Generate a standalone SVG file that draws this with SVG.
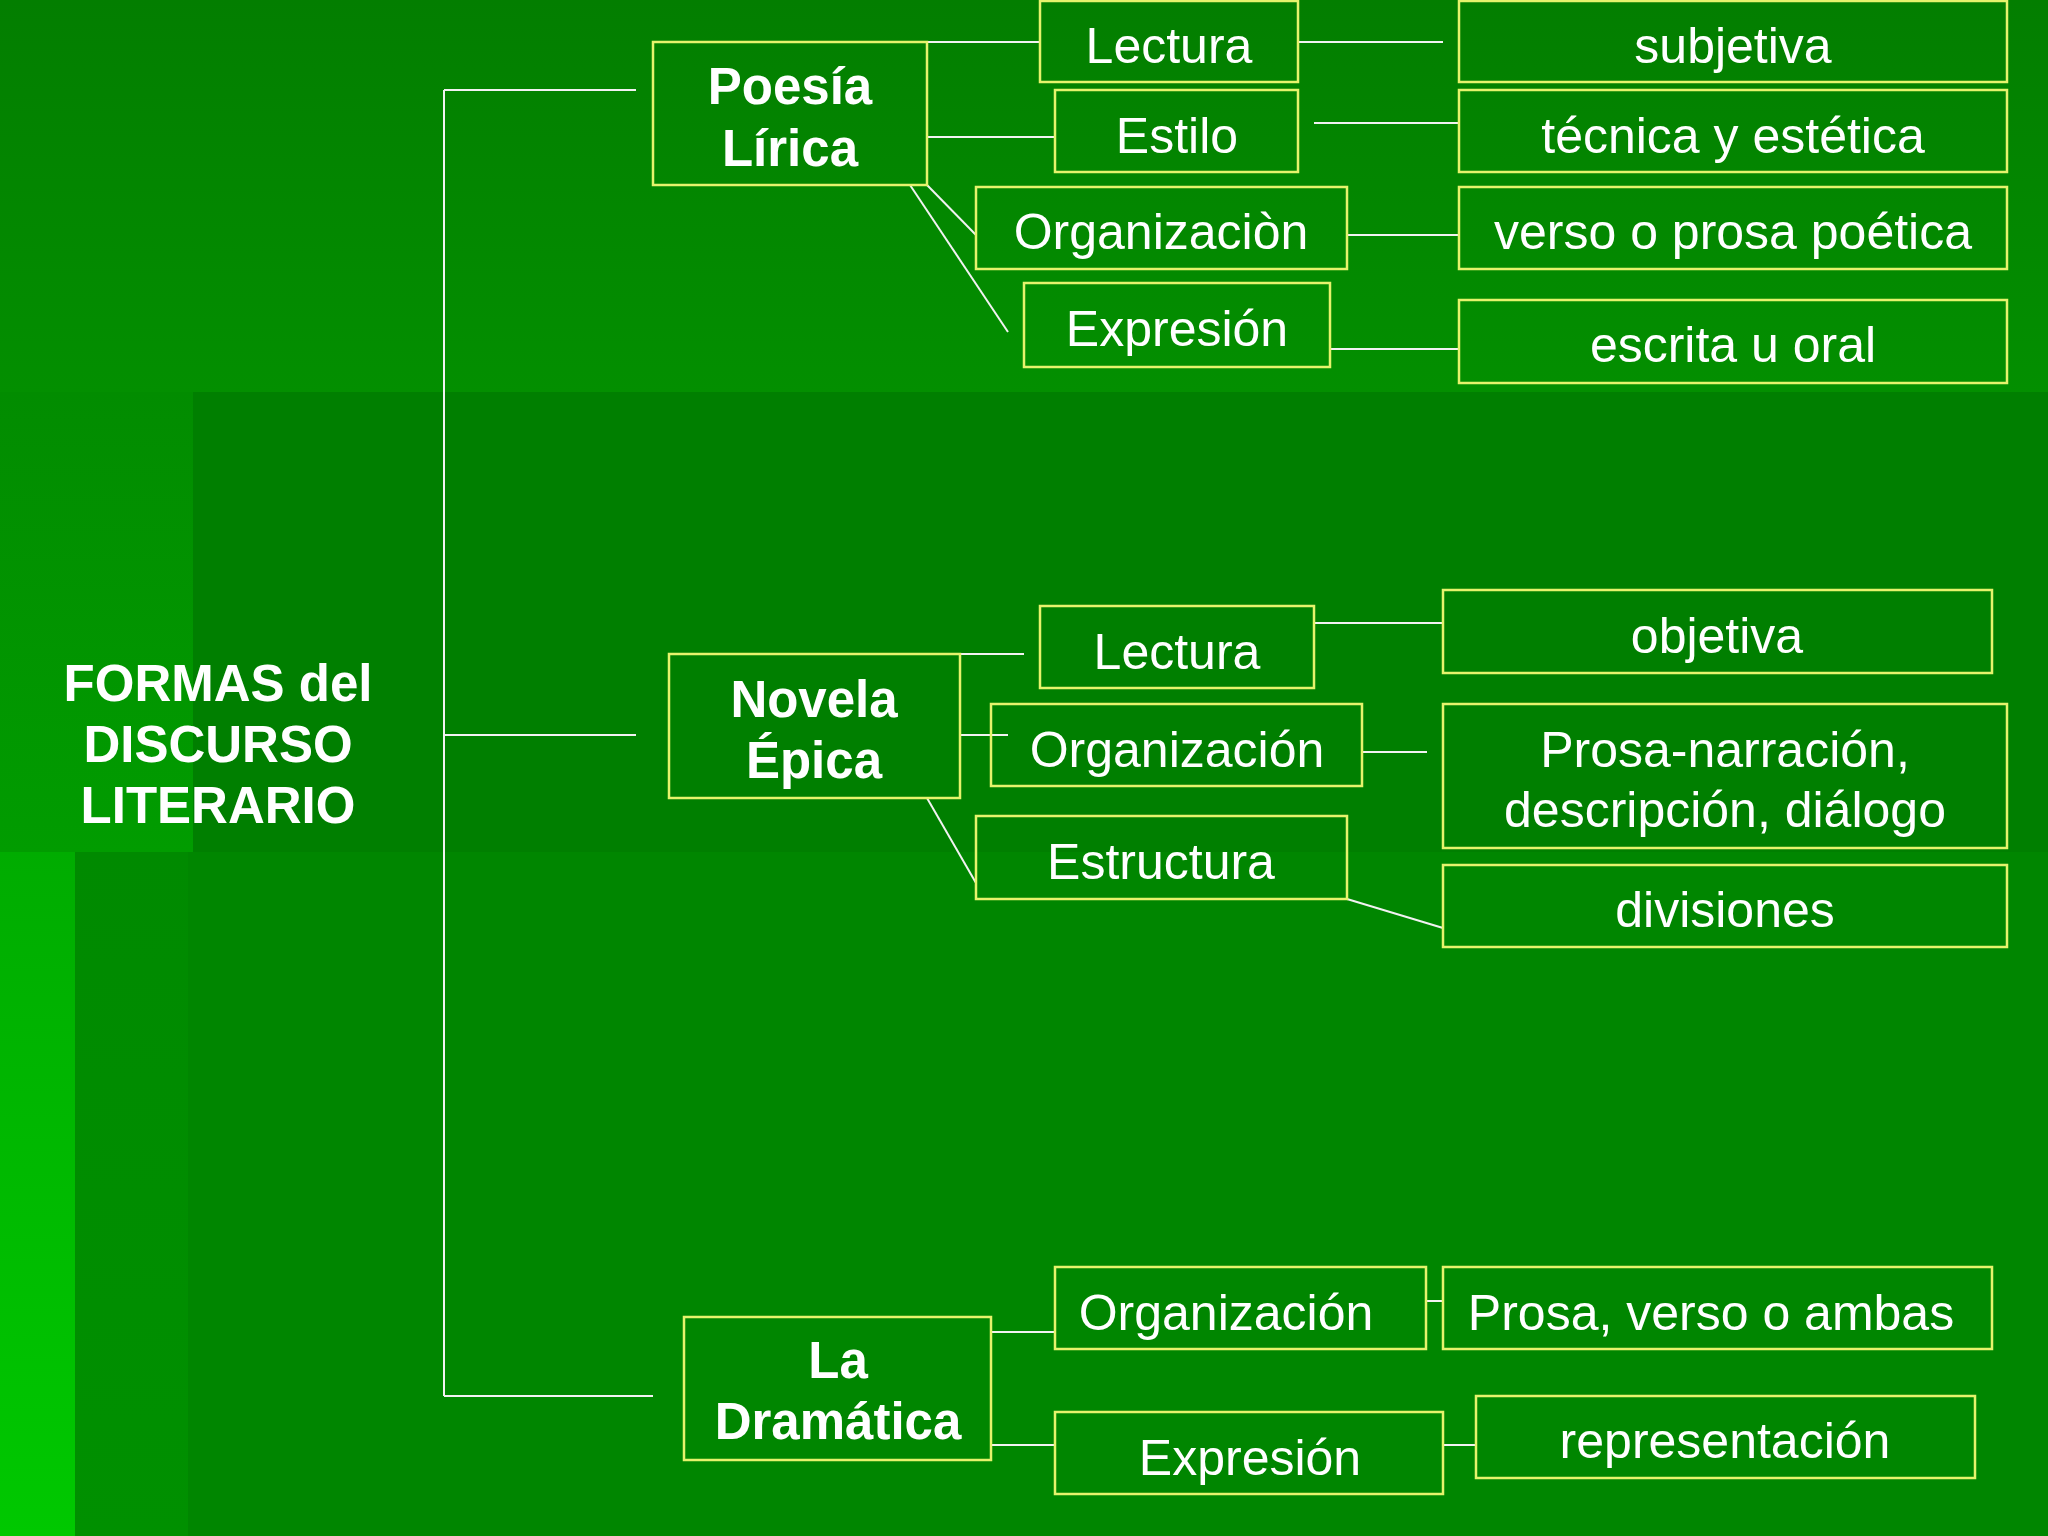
<svg xmlns="http://www.w3.org/2000/svg" width="2048" height="1536" viewBox="0 0 2048 1536">
<defs>
<linearGradient id="gTop" x1="0" y1="0" x2="0" y2="1"><stop offset="0" stop-color="#037e00"/><stop offset="1" stop-color="#038f00"/></linearGradient>
<linearGradient id="gLeftMid" x1="0" y1="0" x2="0" y2="1"><stop offset="0" stop-color="#028c00"/><stop offset="1" stop-color="#019c00"/></linearGradient>
<linearGradient id="gLeftBot" x1="0" y1="0" x2="0" y2="1"><stop offset="0" stop-color="#00ac00"/><stop offset="1" stop-color="#00c800"/></linearGradient>
<linearGradient id="gMidBot" x1="0" y1="0" x2="0" y2="1"><stop offset="0" stop-color="#008a00"/><stop offset="1" stop-color="#009000"/></linearGradient>
<style>
.box{fill:none;stroke:#e6f36c;stroke-width:2.5}
.t{font-family:"Liberation Sans",Arial,sans-serif;font-size:50px;fill:#ffffff;text-anchor:middle}
.b{font-family:"Liberation Sans",Arial,sans-serif;font-size:51px;font-weight:bold;fill:#ffffff;text-anchor:middle}
.c line{stroke:#f2f2f2;stroke-width:2}
</style>
</defs>
<g id="background">
<rect x="0" y="0" width="2048" height="392" fill="url(#gTop)"/>
<rect x="0" y="392" width="193" height="460" fill="url(#gLeftMid)"/>
<rect x="193" y="392" width="1855" height="460" fill="#007f00"/>
<rect x="0" y="852" width="75" height="684" fill="url(#gLeftBot)"/>
<rect x="75" y="852" width="113" height="684" fill="url(#gMidBot)"/>
<rect x="188" y="852" width="1860" height="684" fill="#008600"/>
</g>
<g id="connectors" class="c">
<line x1="444" y1="90" x2="444" y2="1396"/>
<line x1="444" y1="90" x2="636" y2="90"/>
<line x1="444" y1="735" x2="636" y2="735"/>
<line x1="444" y1="1396" x2="653" y2="1396"/>
<line x1="927" y1="42" x2="1040" y2="42"/>
<line x1="1298" y1="42" x2="1443" y2="42"/>
<line x1="927" y1="137" x2="1055" y2="137"/>
<line x1="1314" y1="123" x2="1459" y2="123"/>
<line x1="927" y1="185" x2="976" y2="235"/>
<line x1="1347" y1="235" x2="1459" y2="235"/>
<line x1="910" y1="185" x2="1008" y2="332"/>
<line x1="1330" y1="349" x2="1459" y2="349"/>
<line x1="960" y1="654" x2="1024" y2="654"/>
<line x1="1314" y1="623" x2="1443" y2="623"/>
<line x1="960" y1="735" x2="1008" y2="735"/>
<line x1="1362" y1="752" x2="1427" y2="752"/>
<line x1="927" y1="798" x2="976" y2="883"/>
<line x1="1347" y1="899" x2="1443" y2="928"/>
<line x1="991" y1="1332" x2="1055" y2="1332"/>
<line x1="1426" y1="1301" x2="1443" y2="1301"/>
<line x1="991" y1="1445" x2="1055" y2="1445"/>
<line x1="1443" y1="1445" x2="1476" y2="1445"/>
</g>
<g id="title"><text class="b" x="218" y="701">FORMAS del</text><text class="b" x="218" y="762">DISCURSO</text><text class="b" x="218" y="823">LITERARIO</text></g>
<g id="poesia"><rect class="box" x="653" y="42" width="274" height="143"/><text class="b" x="790" y="104">Poesía</text><text class="b" x="790" y="166">Lírica</text></g>
<g id="p_lectura"><rect class="box" x="1040" y="1" width="258" height="81"/><text class="t" x="1169" y="63">Lectura</text></g>
<g id="p_subjetiva"><rect class="box" x="1459" y="1" width="548" height="81"/><text class="t" x="1733" y="63">subjetiva</text></g>
<g id="p_estilo"><rect class="box" x="1055" y="90" width="243" height="82"/><text class="t" x="1177" y="153">Estilo</text></g>
<g id="p_tecnica"><rect class="box" x="1459" y="90" width="548" height="82"/><text class="t" x="1733" y="153">técnica y estética</text></g>
<g id="p_organizacion"><rect class="box" x="976" y="187" width="371" height="82"/><text class="t" x="1161" y="249">Organizaciòn</text></g>
<g id="p_verso"><rect class="box" x="1459" y="187" width="548" height="82"/><text class="t" x="1733" y="249">verso o prosa poética</text></g>
<g id="p_expresion"><rect class="box" x="1024" y="283" width="306" height="84"/><text class="t" x="1177" y="346">Expresión</text></g>
<g id="p_escrita"><rect class="box" x="1459" y="300" width="548" height="83"/><text class="t" x="1733" y="362">escrita u oral</text></g>
<g id="novela"><rect class="box" x="669" y="654" width="291" height="144"/><text class="b" x="814" y="717">Novela</text><text class="b" x="814" y="778">Épica</text></g>
<g id="n_lectura"><rect class="box" x="1040" y="606" width="274" height="82"/><text class="t" x="1177" y="669">Lectura</text></g>
<g id="n_objetiva"><rect class="box" x="1443" y="590" width="549" height="83"/><text class="t" x="1717" y="653">objetiva</text></g>
<g id="n_organizacion"><rect class="box" x="991" y="704" width="371" height="82"/><text class="t" x="1177" y="767">Organización</text></g>
<g id="n_prosa"><rect class="box" x="1443" y="704" width="564" height="144"/><text class="t" x="1725" y="767">Prosa-narración,</text><text class="t" x="1725" y="827">descripción, diálogo</text></g>
<g id="n_estructura"><rect class="box" x="976" y="816" width="371" height="83"/><text class="t" x="1161" y="879">Estructura</text></g>
<g id="n_divisiones"><rect class="box" x="1443" y="865" width="564" height="82"/><text class="t" x="1725" y="927">divisiones</text></g>
<g id="dramatica"><rect class="box" x="684" y="1317" width="307" height="143"/><text class="b" x="838" y="1378">La</text><text class="b" x="838" y="1439">Dramática</text></g>
<g id="d_organizacion"><rect class="box" x="1055" y="1267" width="371" height="82"/><text class="t" x="1226" y="1330">Organización</text></g>
<g id="d_prosa"><rect class="box" x="1443" y="1267" width="549" height="82"/><text class="t" x="1711" y="1330">Prosa, verso o ambas</text></g>
<g id="d_expresion"><rect class="box" x="1055" y="1412" width="388" height="82"/><text class="t" x="1250" y="1475">Expresión</text></g>
<g id="d_representacion"><rect class="box" x="1476" y="1396" width="499" height="82"/><text class="t" x="1725" y="1458">representación</text></g>
</svg>
